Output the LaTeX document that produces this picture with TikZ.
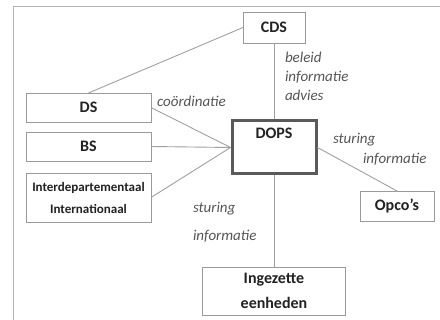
\documentclass[tikz,border=0pt]{standalone}
\usepackage{fontspec}
\setmainfont{Carlito}
\definecolor{framegray}{HTML}{B4B4B4}
\definecolor{boxgray}{HTML}{9A9A9A}
\definecolor{linegray}{HTML}{A0A0A0}
\definecolor{dopsgray}{HTML}{5A5A5A}
\definecolor{notegray}{HTML}{555555}
\definecolor{boxtext}{HTML}{222222}

\begin{document}
\begin{tikzpicture}[x=1pt,y=-1pt,
  every node/.style={outer sep=0pt, inner sep=0pt},
  box/.style={draw=boxgray, line width=0.9pt, fill=white, align=center, text=boxtext,
    font=\fontsize{16}{25}\selectfont\bfseries},
  link/.style={draw=linegray, line width=0.9pt},
  note/.style={anchor=west, align=left, text=notegray,
    font=\fontsize{15}{19}\selectfont\itshape}]
\useasboundingbox (0,0) rectangle (440,320);
\draw[framegray, line width=1pt] (13,320) -- (13,7) -- (440,7);

% boxes
\node[box, minimum width=62, minimum height=31] (cds) at (274,27.5) {CDS};
\node[box, minimum width=125, minimum height=29] (ds) at (88.5,107.5) {DS};
\node[box, minimum width=125, minimum height=29] (bs) at (88.5,146.5) {BS};
\node[box, minimum width=125, minimum height=49, font=\fontsize{13}{22}\selectfont\bfseries] (inter) at (88.5,197.5) {Interdepartementaal\\Internationaal};
\node[box, draw=dopsgray, line width=3pt, outer sep=1.5pt, minimum width=84, minimum height=53] (dops) at (274,147.5) {};
\node[text=boxtext, font=\fontsize{16}{25}\selectfont\bfseries] (dopslabel) at (274,133) {DOPS};
\node[box, minimum width=74, minimum height=30] (opco) at (397,206) {Opco’s};
\node[box, minimum width=143, minimum height=48] (inzet) at (274,291) {Ingezette\\eenheden};

% connectors
\draw[link] (cds.west) -- (ds.north);
\draw[link] (cds.south) -- (dops.north);
\draw[link] (ds.east) -- (dops.west);
\draw[link] (bs.east) -- (dops.west);
\draw[link] (inter.east) -- (dops.west);
\draw[link] (dops.east) -- (opco.north);
\draw[link] (dops.south) -- (inzet.north);

% labels
\node[note] (beleid) at (285,76) {beleid\\informatie\\advies};
\node[note] (coord) at (157,101) {coördinatie};
\node[note] (sturingr) at (333,140) {sturing};
\node[note] (infor) at (363,159) {informatie};
\node[note] (sturingb) at (193,209) {sturing};
\node[note] (infob) at (193,236) {informatie};
\end{tikzpicture}
\end{document}
